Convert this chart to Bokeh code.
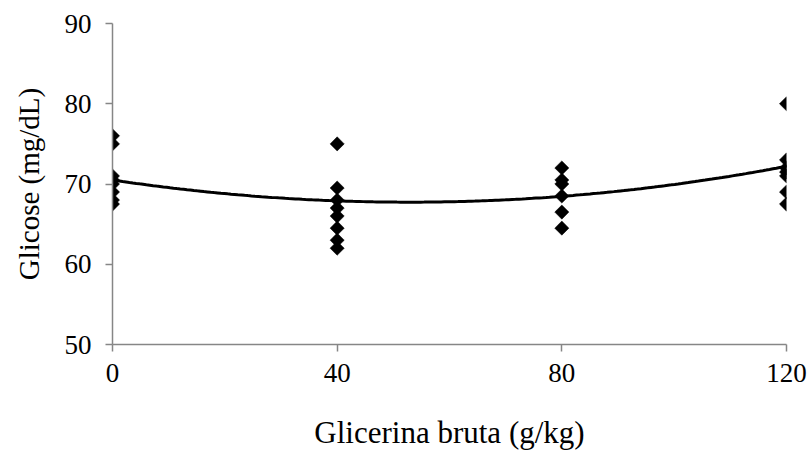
from bokeh.plotting import figure
from bokeh.models import Range1d, FixedTicker
from bokeh.embed import file_html
from bokeh.resources import INLINE
import numpy as np

# Glicerina bruta (g/kg) levels and observed glucose (mg/dL)
x_0 = [0, 0, 0, 0, 0, 0, 0, 0]
y_0 = [76, 75, 71, 70.5, 70, 69, 68, 67.5]
x_40 = [40, 40, 40, 40, 40, 40, 40, 40]
y_40 = [75, 69.5, 68, 67, 66, 64.5, 63, 62]
x_80 = [80, 80, 80, 80, 80, 80]
y_80 = [72, 70.5, 70, 68.5, 66.5, 64.5]
x_120 = [120, 120, 120, 120, 120, 120, 120]
y_120 = [80, 73, 72, 71.5, 71, 69, 67.5]

# quadratic trend: y = a + b*x + c*x^2
trend_a = 70.5
trend_b = -0.1046
trend_c = 0.00099

x_ticks = [0, 40, 80, 120]
y_ticks = [50, 60, 70, 80, 90]
x_title = "Glicerina bruta (g/kg)"
y_title = "Glicose (mg/dL)"

FONT = "Liberation Serif"
AXIS_COLOR = "#868686"

p = figure(width=811, height=454, output_backend="svg", toolbar_location=None,
           x_range=Range1d(0, 120), y_range=Range1d(50, 90),
           min_border_left=112, min_border_right=25, min_border_top=23,
           min_border_bottom=110)
p.outline_line_color = None
p.grid.visible = False
p.background_fill_color = "white"
p.border_fill_color = "white"

xs = x_0 + x_40 + x_80 + x_120
ys = y_0 + y_40 + y_80 + y_120

tx = np.linspace(min(x_ticks), max(x_ticks), 200)
ty = trend_a + trend_b * tx + trend_c * tx ** 2
p.line(tx, ty, line_color="black", line_width=3)

p.scatter(xs, ys, marker="square", angle=np.pi / 4, size=10,
          fill_color="black", line_color="black", line_width=0.5)

for ax in (p.xaxis[0], p.yaxis[0]):
    ax.axis_line_color = AXIS_COLOR
    ax.axis_line_width = 1.5
    ax.major_tick_line_color = AXIS_COLOR
    ax.major_tick_line_width = 1.5
    ax.major_tick_out = 7
    ax.major_tick_in = 0
    ax.minor_tick_line_color = None
    ax.major_label_text_font = FONT
    ax.major_label_text_font_size = "27px"
    ax.major_label_text_color = "black"
    ax.axis_label_text_font = FONT
    ax.axis_label_text_font_style = "normal"
    ax.axis_label_text_color = "black"

p.xaxis.ticker = FixedTicker(ticks=x_ticks)
p.yaxis.ticker = FixedTicker(ticks=y_ticks)
p.xaxis.major_label_standoff = 12
p.yaxis.major_label_standoff = 14

p.yaxis.axis_label = y_title
p.yaxis.axis_label_text_font_size = "29px"
p.yaxis.axis_label_standoff = 17

p.xaxis.axis_label = x_title
p.xaxis.axis_label_text_font_size = "31px"
p.xaxis.axis_label_standoff = 30

open("out.html", "w").write(file_html(p, INLINE))
